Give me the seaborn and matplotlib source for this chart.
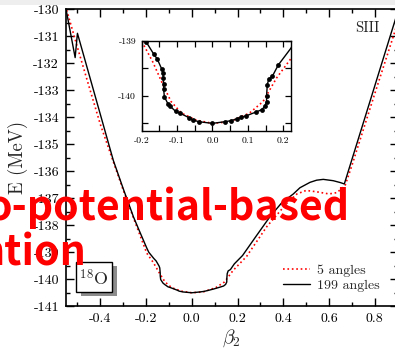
import numpy as np
import matplotlib
matplotlib.use('Agg')
import matplotlib.pyplot as plt
import seaborn as sns
from matplotlib.patches import Rectangle
from matplotlib.ticker import MultipleLocator, FormatStrFormatter

# ---- data ----
beta_199 = [-0.550, -0.530, -0.510, -0.500, -0.450, -0.400, -0.343, -0.300, -0.255, -0.225,
            -0.197, -0.188, -0.166, -0.156, -0.143, -0.140, -0.139, -0.138, -0.138, -0.136,
            -0.126, -0.119, -0.104, -0.093, -0.065, -0.055, -0.038, 0.000, 0.035, 0.053,
            0.068, 0.082, 0.096, 0.124, 0.139, 0.148, 0.153, 0.153, 0.155, 0.159,
            0.169, 0.186, 0.222, 0.280, 0.342, 0.393, 0.444, 0.473, 0.517, 0.546,
            0.575, 0.619, 0.650, 0.667, 0.780, 0.900]
e_199 = [-130.00, -130.90, -131.80, -130.90, -132.40, -133.90, -135.61, -136.65, -137.70, -138.30,
         -138.85, -139.01, -139.24, -139.33, -139.52, -139.59, -139.68, -139.79, -139.88, -140.02,
         -140.15, -140.20, -140.29, -140.32, -140.41, -140.45, -140.48, -140.51, -140.48, -140.46,
         -140.43, -140.40, -140.37, -140.30, -140.26, -140.20, -140.11, -140.00, -139.80, -139.70,
         -139.65, -139.44, -139.13, -138.43, -137.69, -137.18, -136.85, -136.62, -136.42, -136.34,
         -136.31, -136.36, -136.43, -136.48, -133.40, -130.12]

beta_5 = [-0.547, -0.500, -0.450, -0.400, -0.343, -0.300, -0.250, -0.197, -0.169, -0.140,
          -0.117, -0.088, -0.046, 0.000, 0.049, 0.105, 0.143, 0.181, 0.222, 0.240,
          0.328, 0.415, 0.460, 0.500, 0.546, 0.600, 0.635, 0.655, 0.670, 0.700,
          0.800, 0.881, 0.900]
e_5 = [-130.04, -131.42, -132.85, -134.27, -135.66, -136.70, -137.85, -139.04, -139.38, -139.80,
       -140.11, -140.32, -140.45, -140.51, -140.48, -140.32, -140.11, -139.68, -139.32, -139.16,
       -138.06, -137.20, -136.85, -136.72, -136.77, -136.85, -136.80, -136.65, -136.55, -135.80,
       -133.14, -131.02, -130.50]

series_labels = ['5 angles', '199 angles']
x_ticks = [-0.4, -0.2, 0.0, 0.2, 0.4, 0.6, 0.8]
y_ticks = [-141, -140, -139, -138, -137, -136, -135, -134, -133, -132, -131, -130]
inset_x_ticks = [-0.2, -0.1, 0.0, 0.1, 0.2]
inset_y_ticks = [-140, -139]
x_label = r'$\beta_2$'
y_label = 'E (MeV)'
force_label = 'SIII'
nucleus_label = r'$^{18}$O'
overlay_lines = ['o-potential-based', 'ntion']

# ---- style ----
sns.set_theme(style='ticks')
plt.rcParams['font.family'] = ['cmr10', 'DejaVu Serif']
plt.rcParams['mathtext.fontset'] = 'cm'
plt.rcParams['axes.unicode_minus'] = False
plt.rcParams['axes.formatter.use_mathtext'] = False

W, H = 395, 350
fig = plt.figure(figsize=(W / 100, H / 100), dpi=100)
fig.patch.set_facecolor('white')
fig.patches.append(Rectangle((0, 1 - 5 / H), 1, 5 / H, transform=fig.transFigure,
                             facecolor='#eeeeee', edgecolor='none', zorder=0))

ax = fig.add_axes([66 / W, 1 - 306 / H, (397.6 - 66) / W, (306 - 9) / H])
ax.set_facecolor('white')

sns.lineplot(x=beta_5, y=e_5, ax=ax, color='red', linestyle=':', lw=1.2,
             sort=False, estimator=None, label=series_labels[0])
sns.lineplot(x=beta_199, y=e_199, ax=ax, color='black', lw=1.0,
             sort=False, estimator=None, label=series_labels[1])

ax.set_xlim(-0.55, 0.9)
ax.set_ylim(-141, -130)
ax.set_xticks(x_ticks)
ax.set_yticks(y_ticks)
ax.xaxis.set_minor_locator(MultipleLocator(0.1))
ax.yaxis.set_minor_locator(MultipleLocator(0.5))
ax.xaxis.set_major_formatter(FormatStrFormatter('%.1f'))
ax.yaxis.set_major_formatter(FormatStrFormatter('%d'))
ax.tick_params(which='both', direction='in', top=True, right=True, colors='black',
               labelsize=10, width=1.0, pad=5)
ax.tick_params(which='major', length=5.5)
ax.tick_params(which='minor', length=3)
for s in ax.spines.values():
    s.set_linewidth(1.2)
    s.set_color('black')
ax.set_xlabel(x_label, fontsize=14, labelpad=2)
ax.set_ylabel(y_label, fontsize=13.5, labelpad=4)

ax.text(0.944, 0.9226, force_label, transform=ax.transAxes, ha='right', va='baseline',
        fontsize=10.5)

leg = ax.legend(loc='upper left', bbox_to_anchor=(0.655, 0.142), frameon=False,
                fontsize=10, handlelength=1.9, handletextpad=0.5, labelspacing=0.2,
                borderpad=0, borderaxespad=0)

# nucleus box with shadow
bx0, by0, bw, bh = 0.030, 0.047, 0.109, 0.101
ax.add_patch(Rectangle((bx0 + 0.015, by0 - 0.014), bw, bh, transform=ax.transAxes,
                       facecolor='#8c8c8c', edgecolor='none', zorder=5))
ax.add_patch(Rectangle((bx0, by0), bw, bh, transform=ax.transAxes,
                       facecolor='white', edgecolor='black', lw=1.0, zorder=6))
ax.text(bx0 + bw / 2, by0 + bh / 2 - 0.005, nucleus_label, transform=ax.transAxes,
        ha='center', va='center', fontsize=13, zorder=7)

# inset
axi = fig.add_axes([141.7 / W, 1 - 131 / H, 149.3 / W, 90 / H])
axi.set_facecolor('white')
sns.lineplot(x=beta_5, y=e_5, ax=axi, color='red', linestyle=':', lw=1.2,
             sort=False, estimator=None, legend=False)
sns.lineplot(x=beta_199, y=e_199, ax=axi, color='black', lw=1.0,
             sort=False, estimator=None, legend=False)
b199 = np.array(beta_199)
e199 = np.array(e_199)
mask = np.abs(b199) < 0.19
sns.scatterplot(x=b199[mask], y=e199[mask], ax=axi, color='black', s=12,
                edgecolor='black', linewidth=0, legend=False, zorder=5)
axi.set_xlim(-0.2, 0.222)
axi.set_ylim(-140.65, -139)
axi.set_xticks(inset_x_ticks)
axi.set_yticks(inset_y_ticks)
axi.xaxis.set_minor_locator(MultipleLocator(0.05))
axi.yaxis.set_minor_locator(MultipleLocator(0.5))
axi.xaxis.set_major_formatter(FormatStrFormatter('%.1f'))
axi.yaxis.set_major_formatter(FormatStrFormatter('%d'))
axi.tick_params(which='both', direction='in', top=True, right=True, colors='black',
                labelsize=7, width=0.9, pad=4)
axi.tick_params(which='major', length=4)
axi.tick_params(which='minor', length=4)
for s in axi.spines.values():
    s.set_linewidth(1.0)
    s.set_color('black')
axi.set_xlabel('')
axi.set_ylabel('')

# overlay text from the source page
overlay_family = ['Noto Sans CJK SC', 'DejaVu Sans']
fig.text(349 / W, 1 - 220 / H, overlay_lines[0], fontsize=29.5, fontweight='bold',
         color='red', family=overlay_family, ha='right', va='baseline', zorder=20)
fig.text(87 / W, 1 - 265 / H, overlay_lines[1], fontsize=29.5, fontweight='bold',
         color='red', family=overlay_family, ha='right', va='baseline', zorder=20)

fig.savefig('out.png', dpi=100)
